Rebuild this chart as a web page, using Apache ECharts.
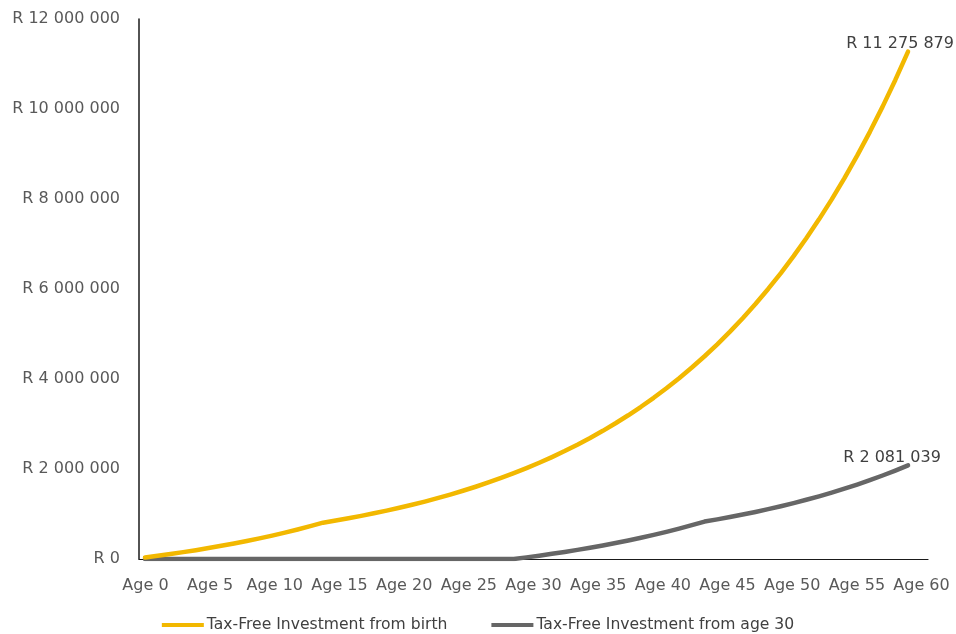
<!DOCTYPE html>
<html>
<head>
<meta charset="utf-8">
<title>Tax-Free Investment growth</title>
<script src="https://cdn.jsdelivr.net/npm/echarts@6/dist/echarts.min.js"></script>
<style>
  html, body { margin: 0; padding: 0; background: #ffffff; }
  #chart { width: 956px; height: 634px; }
</style>
</head>
<body>
<div id="chart"></div>
<script>
// Ages shown on the horizontal axis
const ages = [0, 1, 2, 3, 4, 5, 6, 7, 8, 9, 10, 11, 12, 13, 14, 15, 16, 17, 18, 19, 20,
  21, 22, 23, 24, 25, 26, 27, 28, 29, 30, 31, 32, 33, 34, 35, 36, 37, 38, 39, 40,
  41, 42, 43, 44, 45, 46, 47, 48, 49, 50, 51, 52, 53, 54, 55, 56, 57, 58, 59, 60];

// Portfolio value (Rand) when contributions start at birth
const fromBirth = [34947, 71956, 111148, 152653, 196607, 243154, 292447, 344648, 399929, 458472,
  520469, 586124, 655652, 729282, 806958, 854569, 904989, 958383, 1014928, 1074809,
  1138223, 1205378, 1276495, 1351808, 1431565, 1516027, 1605473, 1700196, 1800508, 1906738,
  2019236, 2138371, 2264535, 2398143, 2539633, 2689471, 2848150, 3016191, 3194146, 3382601,
  3582174, 3793522, 4017340, 4254363, 4505370, 4771187, 5052687, 5350796, 5666493, 6000816,
  6354864, 6729801, 7126859, 7547344, 7992637, 8464203, 8963591, 9492443, 10052497, 10645594,
  11275879];

// Portfolio value (Rand) when contributions start at age 30
const fromAge30 = [0, 0, 0, 0, 0, 0, 0, 0, 0, 0,
  0, 0, 0, 0, 0, 0, 0, 0, 0, 0,
  0, 0, 0, 0, 0, 0, 0, 0, 0, 0,
  36016, 74158, 114549, 157324, 202623, 250594, 301396, 355194, 412167, 472501,
  536395, 604059, 675715, 751598, 831600, 880700, 932700, 987700, 1046000, 1107700,
  1173000, 1242300, 1315600, 1393200, 1475400, 1562400, 1654600, 1752200, 1855600, 1965100,
  2081039];

const seriesNames = ['Tax-Free Investment from birth', 'Tax-Free Investment from age 30'];
const categoryLabels = ages.map(a => 'Age ' + a);

const FONT = '"DejaVu Sans", sans-serif';

// "R 12 000 000" style currency text
function rand(v) {
  const s = Math.round(v).toString().replace(/\B(?=(\d{3})+(?!\d))/g, ' ');
  return 'R ' + s;
}

// [age, value] pairs with a value label on the final point only
function withEndLabel(values, offset) {
  const data = values.map((v, i) => [ages[i], v]);
  const last = data.length - 1;
  data[last] = {
    value: data[last],
    label: {
      show: true,
      position: 'top',
      distance: 0,
      offset: offset,
      formatter: p => rand(p.value[1]),
      color: '#404040',
      fontFamily: FONT,
      fontSize: 16
    }
  };
  return data;
}

const chart = echarts.init(document.getElementById('chart'), null, { renderer: 'canvas' });

chart.setOption({
  animation: false,
  backgroundColor: '#ffffff',
  textStyle: { fontFamily: FONT },
  grid: { left: 139, right: 28, top: 19, bottom: 75, containLabel: false },
  legend: {
    data: seriesNames,
    left: 'center',
    top: 612,
    itemWidth: 42,
    itemHeight: 4,
    itemGap: 44,
    icon: 'rect',
    textStyle: { color: '#404040', fontFamily: FONT, fontSize: 15.6, padding: [0, 0, 0, -2] }
  },
  xAxis: [
    {
      type: 'category',
      data: categoryLabels,
      boundaryGap: true,
      position: 'bottom',
      axisLine: { show: true, onZero: false, lineStyle: { color: '#1a1a1a', width: 1.2 } },
      axisTick: { show: false },
      splitLine: { show: false },
      axisLabel: {
        interval: 4,
        margin: 19,
        color: '#595959',
        fontFamily: FONT,
        fontSize: 16
      }
    },
    {
      type: 'value',
      show: false,
      min: -0.472,
      max: 61.57,
      splitLine: { show: false }
    }
  ],
  yAxis: {
    type: 'value',
    min: 0,
    max: 12000000,
    interval: 2000000,
    axisLine: { show: true, onZero: false, lineStyle: { color: '#1a1a1a', width: 1.5 } },
    axisTick: { show: false },
    splitLine: { show: false },
    axisLabel: {
      margin: 19,
      color: '#595959',
      fontFamily: FONT,
      fontSize: 16,
      formatter: v => rand(v)
    }
  },
  series: [
    {
      name: seriesNames[0],
      type: 'line',
      xAxisIndex: 1,
      data: withEndLabel(fromBirth, [-8, 0]),
      showSymbol: true,
      symbol: 'circle',
      symbolSize: 0,
      itemStyle: { color: '#F2B800' },
      lineStyle: { color: '#F2B800', width: 4.5, cap: 'round', join: 'round' },
      z: 3
    },
    {
      name: seriesNames[1],
      type: 'line',
      xAxisIndex: 1,
      data: withEndLabel(fromAge30, [-16, 0]),
      showSymbol: true,
      symbol: 'circle',
      symbolSize: 0,
      itemStyle: { color: '#666666' },
      lineStyle: { color: '#666666', width: 4.5, cap: 'round', join: 'round' },
      z: 2
    }
  ]
});
</script>
</body>
</html>
